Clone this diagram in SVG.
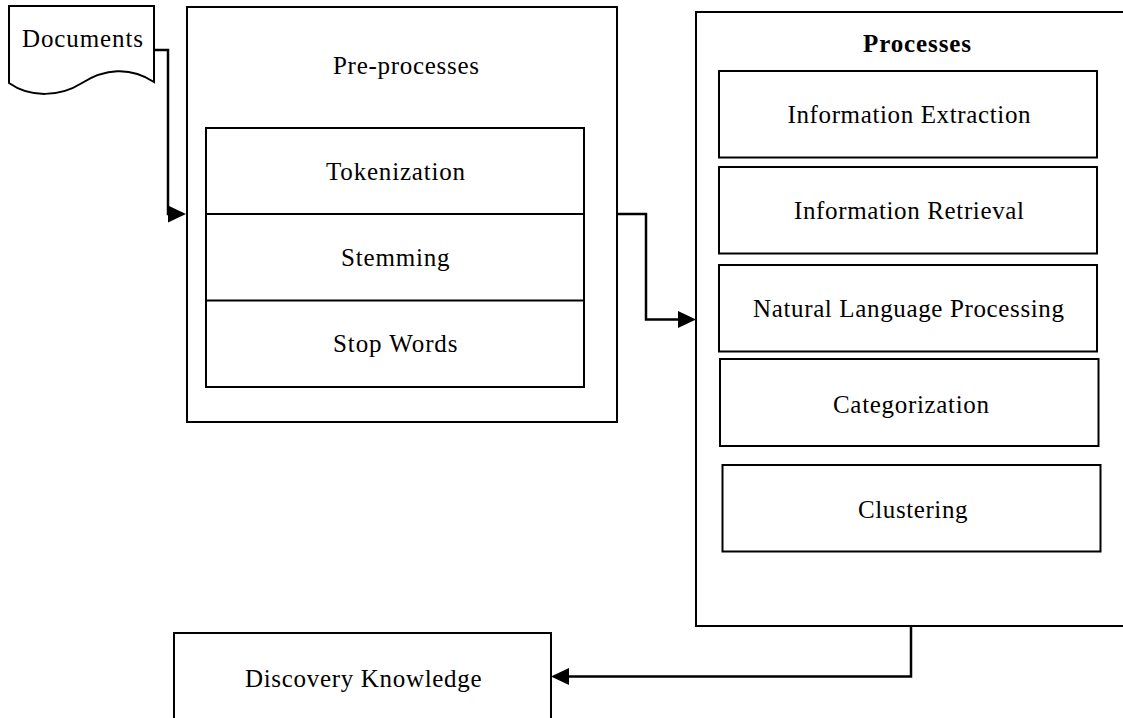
<svg xmlns="http://www.w3.org/2000/svg" width="1123" height="718" viewBox="0 0 1123 718">
<defs>
<style>
.box{fill:#fff;stroke:#000;stroke-width:2}
.ln{fill:none;stroke:#000;stroke-width:2}
.con{fill:none;stroke:#000;stroke-width:2.5}
text{font-family:"Liberation Serif","Times New Roman",serif;font-size:25px;fill:#000}
.b{font-weight:bold}
</style>
<marker id="arr" markerUnits="userSpaceOnUse" markerWidth="18" markerHeight="17" refX="2" refY="8.5" orient="auto" viewBox="0 0 18 17">
<path d="M0,0 L18,8.5 L0,17 z" fill="#000"/>
</marker>
</defs>
<rect width="1123" height="718" fill="#fff"/>
<g id="documents">
<path class="box" d="M9,6 H154 V82 C130,66 104,69 82,83 C60,97 30,98 9,83 Z"/>
<text x="22" y="47" textLength="121" lengthAdjust="spacing">Documents</text>
</g>
<g id="preprocesses">
<rect class="box" x="187" y="7" width="430" height="415"/>
<text x="333" y="73.5" textLength="146" lengthAdjust="spacing">Pre-processes</text>
<rect class="box" x="206" y="128" width="378" height="259"/>
<line class="ln" x1="206" y1="214" x2="584" y2="214"/>
<line class="ln" x1="206" y1="300.5" x2="584" y2="300.5"/>
<text x="326" y="180" textLength="139" lengthAdjust="spacing">Tokenization</text>
<text x="341" y="265.5" textLength="108.5" lengthAdjust="spacing">Stemming</text>
<text x="333" y="352" textLength="124.5" lengthAdjust="spacing">Stop Words</text>
</g>
<g id="processes">
<rect class="box" x="696" y="12" width="440" height="614"/>
<text class="b" x="863" y="51.5" textLength="108" lengthAdjust="spacing">Processes</text>
</g>
<g id="information-extraction">
<rect class="box" x="719" y="71" width="378" height="86.5"/>
<text x="787.5" y="123" textLength="243" lengthAdjust="spacing">Information Extraction</text>
</g>
<g id="information-retrieval">
<rect class="box" x="719" y="167" width="378" height="86.5"/>
<text x="794" y="219" textLength="230" lengthAdjust="spacing">Information Retrieval</text>
</g>
<g id="nlp">
<rect class="box" x="719" y="265" width="378" height="86.5"/>
<text x="753" y="316.5" textLength="311" lengthAdjust="spacing">Natural Language Processing</text>
</g>
<g id="categorization">
<rect class="box" x="720" y="359" width="378.5" height="87"/>
<text x="833" y="412.5" textLength="156" lengthAdjust="spacing">Categorization</text>
</g>
<g id="clustering">
<rect class="box" x="722.5" y="465" width="378" height="86.5"/>
<text x="858" y="517.5" textLength="109.5" lengthAdjust="spacing">Clustering</text>
</g>
<g id="discovery-knowledge">
<rect class="box" x="174" y="633" width="377" height="100"/>
<text x="245" y="686.5" textLength="236.5" lengthAdjust="spacing">Discovery Knowledge</text>
</g>
<g id="connectors">
<path class="con" d="M154,50 H168 V214 H170" marker-end="url(#arr)"/>
<path class="con" d="M617,214 H646 V319.5 H680" marker-end="url(#arr)"/>
<path class="con" d="M911,627 V676.5 H567" marker-end="url(#arr)"/>
</g>
</svg>
